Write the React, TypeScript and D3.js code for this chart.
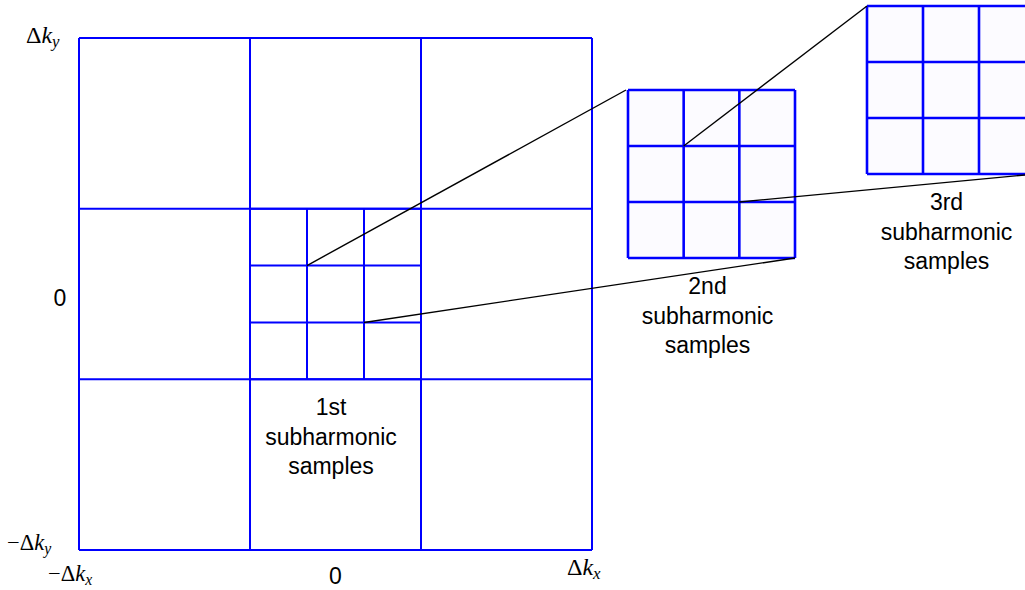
import React from "react";
import * as d3 from "d3";

// Grid division points (in units of the full Brillouin-zone half width)
const mainDivisions = [-1, -1 / 3, 1 / 3, 1];
const subDivisions = [-1 / 3, -1 / 9, 1 / 9, 1 / 3];
const zoomDivisions = [-1, -1 / 3, 1 / 3, 1];

// Corner points of the inner grid that feed each magnified view
const connectorSources = [
  [-1 / 9, 1 / 9],
  [1 / 9, -1 / 9],
];
const zoomConnectorSources = [
  [-1 / 3, 1 / 3],
  [1 / 3, -1 / 3],
];

const stageLabels = [
  ["1st", "subharmonic", "samples"],
  ["2nd", "subharmonic", "samples"],
  ["3rd", "subharmonic", "samples"],
];

const W = 1025;
const H = 590;
const BLUE = "#0000ff";
const SANS = "'Liberation Sans', Arial, sans-serif";
const SERIF = "'Liberation Serif', 'Times New Roman', serif";

type Box = { x0: number; x1: number; y0: number; y1: number };

const mainBox: Box = { x0: 79, x1: 592, y0: 38, y1: 550 };
const box2: Box = { x0: 628, x1: 795, y0: 90, y1: 258 };
const box3: Box = { x0: 867, x1: 1035, y0: 6, y1: 174 };

function scalesFor(b: Box) {
  return {
    x: d3.scaleLinear().domain([-1, 1]).range([b.x0, b.x1]),
    y: d3.scaleLinear().domain([-1, 1]).range([b.y1, b.y0]),
  };
}

function Grid({ box, divs, sw, fill }: { box: Box; divs: number[]; sw: number; fill: string }) {
  const { x, y } = scalesFor(box);
  return (
    <g>
      <rect x={box.x0} y={box.y0} width={box.x1 - box.x0} height={box.y1 - box.y0} fill={fill} />
      {divs.map((d, i) => (
        <line key={"v" + i} x1={x(d)} x2={x(d)} y1={box.y0} y2={box.y1} stroke={BLUE} strokeWidth={sw} />
      ))}
      {divs.map((d, i) => (
        <line key={"h" + i} x1={box.x0} x2={box.x1} y1={y(d)} y2={y(d)} stroke={BLUE} strokeWidth={sw} />
      ))}
    </g>
  );
}

function MathLabel({
  x,
  y,
  sign,
  sub,
  size = 24,
}: {
  x: number;
  y: number;
  sign?: boolean;
  sub: string;
  size?: number;
}) {
  return (
    <text x={x} y={y} fontFamily={SERIF} fontSize={size} fill="#000">
      {sign ? "\u2212" : ""}Δ<tspan fontStyle="italic">k</tspan>
      <tspan fontStyle="italic" fontSize={size * 0.7} dy={size * 0.16}>
        {sub}
      </tspan>
    </text>
  );
}

function StageLabel({ cx, y, lines }: { cx: number; y: number; lines: string[] }) {
  return (
    <text x={cx} y={y} textAnchor="middle" fontFamily={SANS} fontSize={23} fill="#000">
      {lines.map((l, i) => (
        <tspan key={i} x={cx} dy={i === 0 ? 0 : 29.5}>
          {l}
        </tspan>
      ))}
    </text>
  );
}

export default function App() {
  const m = scalesFor(mainBox);
  const z2 = scalesFor(box2);
  const sub = subDivisions;
  const subX0 = m.x(sub[0]);
  const subX1 = m.x(sub[sub.length - 1]);
  const subY0 = m.y(sub[sub.length - 1]);
  const subY1 = m.y(sub[0]);

  return (
    <svg width={W} height={H} style={{ position: "absolute", left: 0, top: 0, background: "#fff" }}>
      {/* full zone with first subdivision */}
      <Grid box={mainBox} divs={mainDivisions} sw={2} fill="#fff" />
      {sub.map((d, i) => (
        <line key={"sv" + i} x1={m.x(d)} x2={m.x(d)} y1={subY0} y2={subY1} stroke={BLUE} strokeWidth={2} />
      ))}
      {sub.map((d, i) => (
        <line key={"sh" + i} x1={subX0} x2={subX1} y1={m.y(d)} y2={m.y(d)} stroke={BLUE} strokeWidth={2} />
      ))}

      {/* magnified views */}
      <Grid box={box2} divs={zoomDivisions} sw={2.6} fill="#fcfbff" />
      <Grid box={box3} divs={zoomDivisions} sw={2.6} fill="#fcfbff" />

      {/* connectors from the inner grid to the magnified views */}
      <line
        x1={m.x(connectorSources[0][0])}
        y1={m.y(connectorSources[0][1])}
        x2={box2.x0 - 2}
        y2={box2.y0}
        stroke="#000"
        strokeWidth={1.4}
      />
      <line
        x1={m.x(connectorSources[1][0])}
        y1={m.y(connectorSources[1][1])}
        x2={box2.x1}
        y2={box2.y1}
        stroke="#000"
        strokeWidth={1.4}
      />
      <line
        x1={z2.x(zoomConnectorSources[0][0])}
        y1={z2.y(zoomConnectorSources[0][1])}
        x2={box3.x0}
        y2={box3.y0}
        stroke="#000"
        strokeWidth={1.4}
      />
      <line
        x1={z2.x(zoomConnectorSources[1][0])}
        y1={z2.y(zoomConnectorSources[1][1])}
        x2={box3.x1}
        y2={box3.y1}
        stroke="#000"
        strokeWidth={1.4}
      />

      {/* stage captions */}
      <StageLabel cx={331} y={415} lines={stageLabels[0]} />
      <StageLabel cx={707.5} y={294} lines={stageLabels[1]} />
      <StageLabel cx={946.5} y={210} lines={stageLabels[2]} />

      {/* axis labels */}
      <MathLabel x={26} y={43} sub="y" />
      <MathLabel x={7} y={550} sign sub="y" size={22.5} />
      <MathLabel x={48} y={581} sign sub="x" size={22.5} />
      <MathLabel x={567} y={575} sub="x" />
      <text x={60} y={306} textAnchor="middle" fontFamily={SANS} fontSize={23} fill="#000">
        0
      </text>
      <text x={m.x(0)} y={584} textAnchor="middle" fontFamily={SANS} fontSize={23} fill="#000">
        0
      </text>
    </svg>
  );
}
